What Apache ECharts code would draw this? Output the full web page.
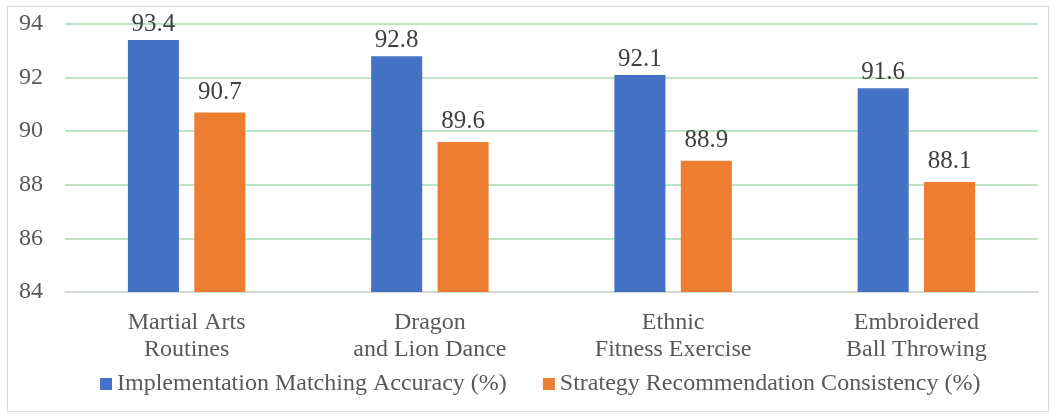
<!DOCTYPE html>
<html>
<head>
<meta charset="utf-8">
<script src="https://cdn.jsdelivr.net/npm/echarts@6/dist/echarts.min.js"></script>
<style>
  html, body { margin: 0; padding: 0; background: #fff; }
  #main { width: 1056px; height: 419px; }
</style>
</head>
<body>
<div id="main"></div>
<script>
var categories = ['Martial Arts\nRoutines', 'Dragon\nand Lion Dance', 'Ethnic\nFitness Exercise', 'Embroidered\nBall Throwing'];
var accuracy = [93.4, 92.8, 92.1, 91.6];
var consistency = [90.7, 89.6, 88.9, 88.1];
var seriesNames = ['Implementation Matching Accuracy (%)', 'Strategy Recommendation Consistency (%)'];

var chart = echarts.init(document.getElementById('main'));
var font = '"Liberation Serif", "Times New Roman", serif';

var option = {
  backgroundColor: '#fff',
  textStyle: { fontFamily: font },
  graphic: [{
    type: 'rect',
    shape: { x: 7.5, y: 6.5, width: 1041, height: 405 },
    style: { fill: 'none', stroke: '#d9d9d9', lineWidth: 1 },
    silent: true
  }],
  legend: {
    bottom: 18,
    left: 95,
    padding: 5,
    itemWidth: 12,
    itemHeight: 12,
    itemGap: 36,
    icon: 'rect',
    textStyle: { fontFamily: font, fontSize: 24, color: '#595959' },
    data: seriesNames
  },
  grid: {
    left: 65,
    right: 18,
    top: 24,
    bottom: 127
  },
  xAxis: {
    type: 'category',
    data: categories,
    axisLine: { lineStyle: { color: '#d9d9d9', width: 1.5 } },
    axisTick: { show: false },
    axisLabel: {
      fontFamily: font, fontSize: 24, color: '#595959',
      lineHeight: 27, margin: 17
    }
  },
  yAxis: {
    type: 'value',
    min: 84,
    max: 94,
    interval: 2,
    axisLine: { show: false },
    axisTick: { show: false },
    splitLine: { lineStyle: { color: '#a9dbb3', width: 1.5 } },
    axisLabel: { fontFamily: font, fontSize: 24, color: '#595959', margin: 22 }
  },
  series: [
    {
      name: seriesNames[0],
      type: 'bar',
      data: accuracy,
      barWidth: '21%',
      barGap: '30%',
      itemStyle: { color: '#4472c4' },
      label: { show: true, position: 'top', distance: 3, fontFamily: font, fontSize: 25, color: '#404040' }
    },
    {
      name: seriesNames[1],
      type: 'bar',
      data: consistency,
      barWidth: '21%',
      barGap: '30%',
      itemStyle: { color: '#ed7d31' },
      label: { show: true, position: 'top', distance: 8, fontFamily: font, fontSize: 25, color: '#404040' }
    }
  ]
};

chart.setOption(option);
</script>
</body>
</html>
